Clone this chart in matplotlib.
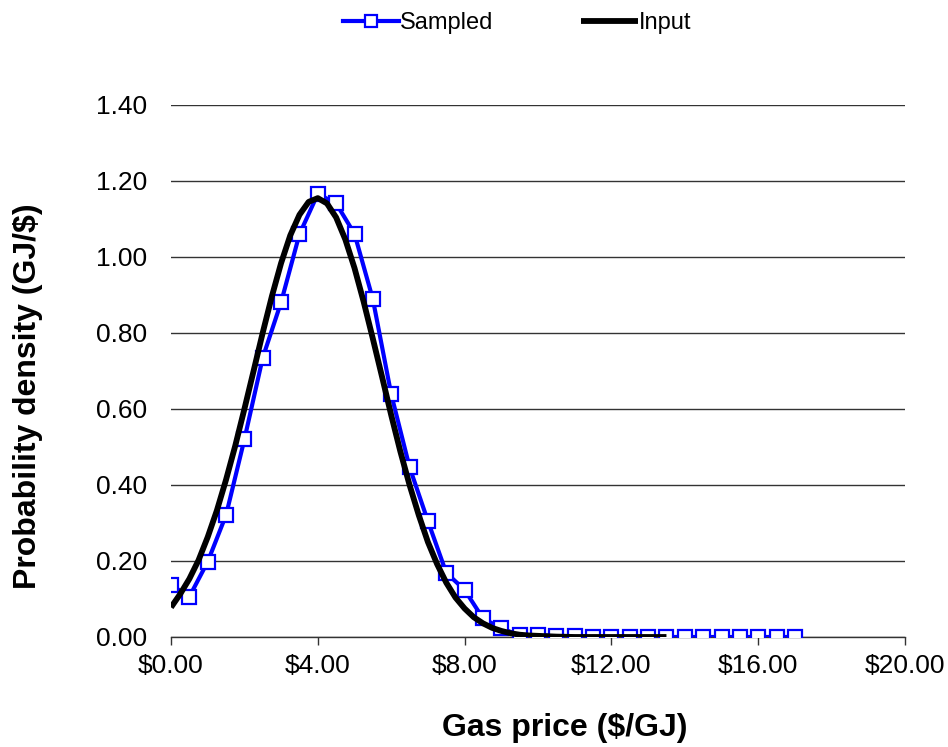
import numpy as np
import matplotlib.pyplot as plt

plt.rcParams['font.family'] = ['Liberation Sans', 'DejaVu Sans']

# sampled gas price distribution
sampled_x = [0.0, 0.5, 1.0, 1.5, 2.0, 2.5, 3.0, 3.5, 4.0, 4.5, 5.0, 5.5, 6.0, 6.5,
             7.0, 7.5, 8.0, 8.5, 9.0, 9.5, 10.0, 10.5, 11.0, 11.5, 12.0, 12.5,
             13.0, 13.5, 14.0, 14.5, 15.0, 15.5, 16.0, 16.5, 17.0]
sampled_y = [0.137, 0.106, 0.198, 0.321, 0.520, 0.735, 0.881, 1.060, 1.166, 1.141,
             1.061, 0.889, 0.639, 0.447, 0.305, 0.169, 0.124, 0.049, 0.023, 0.004,
             0.005, 0.003, 0.002, 0.001, 0.0, 0.0, 0.0, 0.0, 0.0, 0.0, 0.0, 0.0,
             0.0, 0.0, 0.0]

# input distribution curve
input_x = [0.0, 0.25, 0.5, 0.75, 1.0, 1.25, 1.5, 1.75, 2.0, 2.25, 2.5, 2.75, 3.0,
           3.25, 3.5, 3.75, 4.0, 4.25, 4.5, 4.75, 5.0, 5.25, 5.5, 5.75, 6.0, 6.25,
           6.5, 6.75, 7.0, 7.25, 7.5, 7.75, 8.0, 8.25, 8.5, 8.75, 9.0, 9.25, 9.5,
           9.75, 10.0, 10.25, 10.5, 11.0, 11.5, 12.0, 12.5, 13.0, 13.5]
input_y = [0.078, 0.113, 0.153, 0.202, 0.263, 0.333, 0.414, 0.503, 0.600, 0.700,
           0.801, 0.897, 0.984, 1.057, 1.111, 1.145, 1.155, 1.141, 1.104, 1.046,
           0.971, 0.882, 0.785, 0.685, 0.584, 0.488, 0.400, 0.321, 0.250, 0.192,
           0.143, 0.104, 0.075, 0.052, 0.036, 0.024, 0.016, 0.010, 0.006, 0.004,
           0.003, 0.002, 0.001, 0.0, 0.0, 0.0, 0.0, 0.0, 0.0]

x_ticks = [0, 4, 8, 12, 16, 20]
x_ticklabels = ['$0.00', '$4.00', '$8.00', '$12.00', '$16.00', '$20.00']
y_ticks = [0.0, 0.2, 0.4, 0.6, 0.8, 1.0, 1.2, 1.4]

W, H = 948, 747
fig = plt.figure(figsize=(W / 100, H / 100), dpi=100)
ax = fig.add_axes([171 / W, 1 - 637 / H, 734 / W, 532 / H])

ax.plot(sampled_x, sampled_y, color='#0000ff', lw=3.0, marker='s', ms=9.5,
        mfc='white', mec='#0000ff', mew=1.6, label='Sampled', zorder=3)
ax.plot(input_x, input_y, color='black', lw=4.2, label='Input', zorder=4,
        solid_capstyle='butt')

ax.set_xlim(0, 20)
ax.set_ylim(0, 1.4)
ax.set_xticks(x_ticks)
ax.set_xticklabels(x_ticklabels)
ax.set_yticks(y_ticks)
ax.set_yticklabels(['%.2f' % v for v in y_ticks])

ax.yaxis.grid(True, color='#333333', lw=1.0)
ax.set_axisbelow(True)
for s in ['left', 'right', 'top']:
    ax.spines[s].set_visible(False)
ax.spines['bottom'].set_color('#333333')
ax.spines['bottom'].set_linewidth(1.0)

ax.tick_params(axis='y', length=0, pad=17, labelsize=19)
ax.tick_params(axis='x', length=6, width=1.0, color='#333333', pad=6, labelsize=19)

# axis titles placed like the original
fig.text(565 / W, 1 - 728 / H, 'Gas price ($/GJ)', fontsize=23, fontweight='bold',
         ha='center', va='center')
fig.text(28 / W, 1 - 396 / H, 'Probability density (GJ/$)', fontsize=23,
         fontweight='bold', rotation=90, ha='center', va='center')

fig.legend(loc='center', bbox_to_anchor=(517 / W, 1 - 23 / H), ncol=2,
           frameon=False, fontsize=17, handlelength=2.4, columnspacing=3.7,
           handletextpad=0.05, markerscale=0.85)

fig.savefig('out.png', dpi=100)
